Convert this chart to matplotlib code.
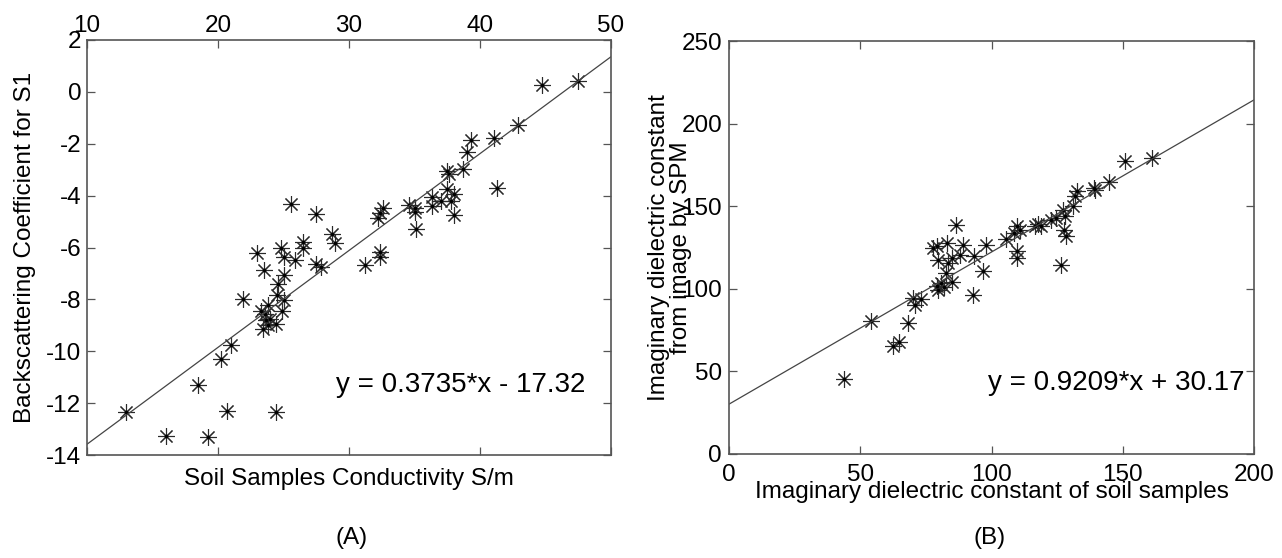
import matplotlib

matplotlib.use("Agg")
import matplotlib.pyplot as plt
import numpy as np

plt.rcParams["font.family"] = ["Liberation Sans", "DejaVu Sans"]
plt.rcParams["axes.unicode_minus"] = False

# Panel A: soil conductivity vs backscattering coefficient
cond_x = [13.0, 16.0, 19.2, 18.5, 20.7, 24.4, 20.2, 21.0, 21.9, 23.0,
          23.5, 23.3, 23.55, 23.7, 23.8, 23.4, 24.0, 24.4, 23.8, 24.5,
          24.6, 24.8, 25.05, 25.05, 25.05, 24.9, 25.6, 25.9, 26.5, 26.5,
          27.5, 27.5, 27.9, 28.7, 28.9, 31.2, 32.2, 32.4, 32.6, 32.4,
          32.4, 34.6, 35.0, 35.0, 35.1, 36.3, 36.3, 37.0, 37.5, 37.6,
          37.5, 37.8, 38.0, 38.0, 38.7, 39.0, 39.3, 41.1, 41.3, 42.9,
          44.7, 47.5]
backscatter = [-12.36, -13.25, -13.3, -11.3, -12.3, -12.35, -10.3, -9.77, -8.0, -6.2,
               -6.86, -8.43, -8.55, -8.8, -9.0, -9.13, -8.75, -8.94, -8.23, -7.85,
               -7.4, -6.0, -6.38, -7.05, -8.04, -8.43, -4.33, -6.48, -5.8, -6.03,
               -4.71, -6.63, -6.76, -5.48, -5.84, -6.67, -4.87, -4.66, -4.46, -6.18,
               -6.38, -4.35, -4.46, -4.65, -5.29, -4.05, -4.39, -4.2, -3.05, -3.18,
               -3.75, -4.2, -3.94, -4.75, -2.98, -2.3, -1.87, -1.79, -3.71, -1.28,
               0.26, 0.41]
fit_a = (0.3735, -17.32)

# Panel B: imaginary dielectric constant, soil samples vs SPM image
soil_eps = [43.7, 54.2, 62.5, 64.8, 68.1, 70.0, 70.8, 73.0, 77.9, 79.1,
            79.5, 79.1, 79.8, 80.6, 81.8, 83.1, 83.6, 84.8, 82.8, 85.1,
            86.3, 89.3, 88.1, 93.1, 93.4, 96.8, 97.9, 105.4, 108.7, 109.9,
            109.6, 109.6, 110.7, 116.7, 117.9, 119.0, 122.7, 124.7, 126.5, 127.3,
            128.0, 128.3, 127.6, 131.0, 132.5, 131.8, 139.0, 139.3, 144.9, 150.9,
            161.1]
spm_eps = [45.5, 80.6, 65.1, 67.7, 79.2, 94.7, 90.3, 93.9, 124.6, 125.7,
           117.6, 101.8, 99.4, 103.4, 101.0, 127.7, 115.6, 118.6, 109.5, 104.4,
           138.6, 126.7, 120.6, 96.4, 119.6, 110.5, 126.7, 130.1, 133.7, 137.8,
           122.6, 118.6, 135.8, 137.8, 139.4, 137.8, 141.8, 142.8, 114.5, 147.9,
           143.8, 131.7, 135.8, 149.9, 159.0, 156.0, 161.0, 159.6, 164.4, 177.6,
           179.2]
fit_b = (0.9209, 30.17)

W, H = 1282, 558
FS = 17.5
EQ_FS = 20
STAR = (8, 2, 0)


def px_axes(fig, x0, y0, x1, y1):
    return fig.add_axes([x0 / W, 1 - y1 / H, (x1 - x0) / W, (y1 - y0) / H])


def style(ax):
    for s in ax.spines.values():
        s.set_color("#555555")
        s.set_linewidth(1.2)
    ax.tick_params(direction="in", length=6, width=0.9, color="#555555",
                   labelsize=FS, top=True, right=True)


def scatter(ax, x, y):
    ax.plot(x, y, linestyle="none", marker=STAR, markersize=12,
            markeredgewidth=0.8, color="#2a2a2a")
    ax.plot(x, y, linestyle="none", marker=".", markersize=3, color="black")


fig = plt.figure(figsize=(W / 100, H / 100), dpi=100)

# ---- panel A
ax = px_axes(fig, 87, 40, 611, 455)
style(ax)
scatter(ax, cond_x, backscatter)
xs = np.array([10, 50])
ax.plot(xs, fit_a[0] * xs + fit_a[1], color="#444444", lw=0.9)
ax.set_xlim(10, 50)
ax.set_ylim(-14, 2)
ax.set_xticks([10, 20, 30, 40, 50])
ax.set_yticks(range(-14, 3, 2))
ax.tick_params(labeltop=True, labelbottom=False, pad=2)
ax.tick_params(axis="y", pad=4)
ax.set_ylabel("Backscattering Coefficient for S1", fontsize=FS)
ax.yaxis.set_label_coords(-0.097, 0.5)
ax.set_xlabel("Soil Samples Conductivity S/m", fontsize=FS)
ax.xaxis.set_label_coords(0.5, -0.031)
ax.text(38.5, -11.3, "y = 0.3735*x - 17.32", fontsize=EQ_FS,
        ha="center", va="center")

# ---- panel B
bx = px_axes(fig, 729, 41, 1254, 454)
style(bx)
scatter(bx, soil_eps, spm_eps)
xs = np.array([0, 200])
bx.plot(xs, fit_b[0] * xs + fit_b[1], color="#444444", lw=0.9)
bx.set_xlim(0, 200)
bx.set_ylim(0, 250)
bx.set_xticks(range(0, 201, 50))
bx.set_yticks(range(0, 251, 50))
bx.tick_params(axis="x", pad=7)
bx.tick_params(axis="y", pad=5)
bx.set_xlabel("Imaginary dielectric constant of soil samples", fontsize=FS)
bx.xaxis.set_label_coords(0.5, -0.066)
bx.set_ylabel("Imaginary dielectric constant\nfrom image by SPM", fontsize=FS,
              linespacing=1.0)
bx.yaxis.set_label_coords(-0.07, 0.5)
bx.text(147.6, 42.8, "y = 0.9209*x + 30.17", fontsize=EQ_FS,
        ha="center", va="center")

fig.text(352 / W, 1 - 538 / H, "(A)", fontsize=FS, ha="center", va="center")
fig.text(990 / W, 1 - 538 / H, "(B)", fontsize=FS, ha="center", va="center")

fig.savefig("out.png", dpi=100, facecolor="white")
